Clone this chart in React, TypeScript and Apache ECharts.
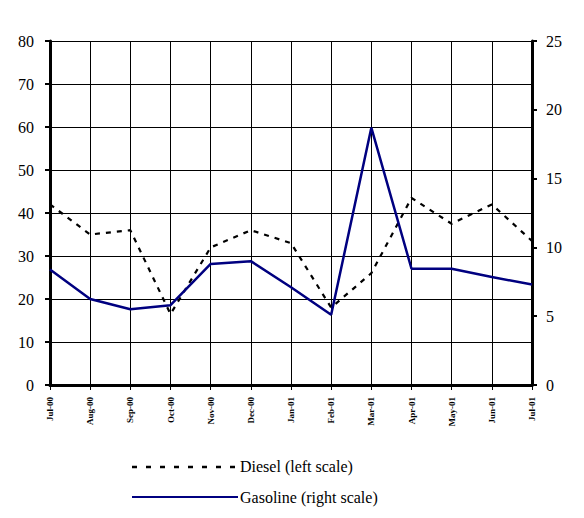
import React, { useEffect, useRef } from "react";
import * as echarts from "echarts";

const categories = ["Jul-00", "Aug-00", "Sep-00", "Oct-00", "Nov-00", "Dec-00", "Jan-01", "Feb-01", "Mar-01", "Apr-01", "May-01", "Jun-01", "Jul-01"];
const diesel = [42, 35, 36, 16.5, 32, 36, 33, 18, 26, 43.5, 37.5, 42, 33.5];
const gasoline = [8.4, 6.25, 5.5, 5.8, 8.8, 9.0, 7.1, 5.1, 18.7, 8.45, 8.45, 7.85, 7.3];
const leftTicks = { min: 0, max: 80, interval: 10 };
const rightTicks = { min: 0, max: 25, interval: 5 };

export default function App() {
  const ref = useRef<HTMLDivElement>(null);
  useEffect(() => {
    const chart = echarts.init(ref.current!, null, { renderer: "svg" });
    const serif = "serif";
    chart.setOption({
      animation: false,
      backgroundColor: "#ffffff",
      textStyle: { fontFamily: serif },
      grid: { left: 50, right: 52, top: 41, bottom: 133 },
      xAxis: {
        type: "category",
        data: categories,
        boundaryGap: false,
        axisLine: { show: true, lineStyle: { color: "#000", width: 3 } },
        axisTick: { show: true, length: 5, lineStyle: { color: "#000", width: 1 } },
        splitLine: { show: true, lineStyle: { color: "#000", width: 1 } },
        axisLabel: { rotate: 90, fontSize: 9, fontWeight: "bold", color: "#000", fontFamily: serif, margin: 12 },
      },
      yAxis: [
        {
          type: "value",
          ...leftTicks,
          position: "left",
          axisLine: { show: true, lineStyle: { color: "#000", width: 3 } },
          axisTick: { show: true, length: 5, lineStyle: { color: "#000", width: 2 } },
          splitLine: { show: true, lineStyle: { color: "#000", width: 1 } },
          axisLabel: { fontSize: 16, color: "#000", fontFamily: serif, margin: 16 },
        },
        {
          type: "value",
          ...rightTicks,
          position: "right",
          axisLine: { show: true, lineStyle: { color: "#000", width: 3 } },
          axisTick: { show: true, length: 5, lineStyle: { color: "#000", width: 2 } },
          splitLine: { show: false },
          axisLabel: { fontSize: 16, color: "#000", fontFamily: serif, margin: 14 },
        },
      ],
      series: [
        {
          name: "Diesel (left scale)",
          type: "line",
          yAxisIndex: 0,
          data: diesel,
          symbol: "none",
          lineStyle: { color: "#000", width: 2.2, type: [5, 6] },
        },
        {
          name: "Gasoline (right scale)",
          type: "line",
          yAxisIndex: 1,
          data: gasoline,
          symbol: "none",
          lineStyle: { color: "#000080", width: 2.5 },
        },
      ],
      graphic: [
        { type: "line", shape: { x1: 132, y1: 467, x2: 238, y2: 467 }, style: { stroke: "#000", lineWidth: 2.5, lineDash: [5, 9] } },
        { type: "text", x: 240, y: 466, style: { text: "Diesel (left scale)", fontSize: 16, fontFamily: serif, fill: "#000", verticalAlign: "middle" } },
        { type: "line", shape: { x1: 132, y1: 497, x2: 238, y2: 497 }, style: { stroke: "#000080", lineWidth: 2 } },
        { type: "text", x: 240, y: 497, style: { text: "Gasoline (right scale)", fontSize: 16, fontFamily: serif, fill: "#000", verticalAlign: "middle" } },
      ],
    });
    return () => chart.dispose();
  }, []);
  return <div ref={ref} style={{ width: 584, height: 518, position: "absolute", left: 0, top: 0 }} />;
}
